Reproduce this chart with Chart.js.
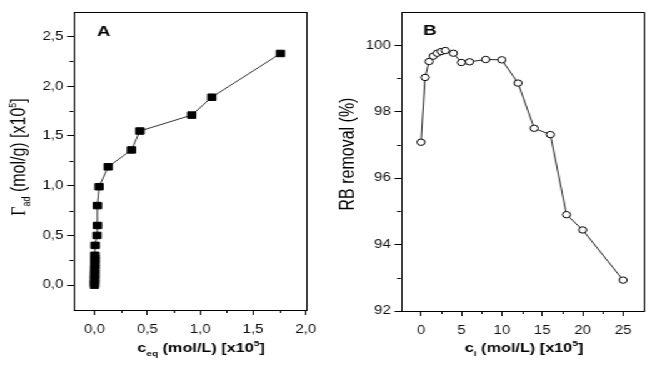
<!DOCTYPE html>
<html>
<head>
<meta charset="utf-8">
<script src="https://cdn.jsdelivr.net/npm/chart.js@4"></script>
<style>
  html, body { margin: 0; padding: 0; background: #fff; overflow: hidden; }
  #wrap { position: absolute; left: 0; top: 0; width: 520px; height: 370px; transform: scaleX(1.25); transform-origin: 0 0; }
  #wrap canvas { position: absolute; top: 0; }
</style>
</head>
<body>
<div id="wrap">
  <canvas id="chartA" width="260" height="370" style="left:0"></canvas>
  <canvas id="chartB" width="260" height="370" style="left:260px"></canvas>
</div>
<script>
// panel A: adsorption isotherm
const ceqA   = [0, 0, 0.001, 0.001, 0.001, 0.002, 0.002, 0.002, 0.003, 0.003, 0.003, 0.004, 0.004,
                0.007, 0.024, 0.028, 0.028, 0.044, 0.13, 0.35, 0.43, 0.92, 1.11, 1.76];
const gammaA = [0, 0.02, 0.05, 0.07, 0.10, 0.12, 0.15, 0.17, 0.20, 0.22, 0.25, 0.27, 0.30,
                0.40, 0.50, 0.60, 0.80, 0.99, 1.19, 1.36, 1.55, 1.71, 1.89, 2.33];
const xTicksA = [0, 0.5, 1.0, 1.5, 2.0];
const yTicksA = [0, 0.5, 1.0, 1.5, 2.0, 2.5];
const xMinorA = [0.25, 0.75, 1.25, 1.75];
const yMinorA = [0.25, 0.75, 1.25, 1.75, 2.25];

// panel B: removal vs initial concentration
const ciB      = [0, 0.5, 1, 1.5, 2, 2.5, 3, 4, 5, 6, 8, 10, 12, 14, 16, 18, 20, 25];
const removalB = [97.08, 99.03, 99.51, 99.67, 99.76, 99.81, 99.84, 99.76, 99.48, 99.50,
                  99.57, 99.56, 98.86, 97.50, 97.31, 94.90, 94.44, 92.93];
const xTicksB = [0, 5, 10, 15, 20, 25];
const yTicksB = [92, 94, 96, 98, 100];
const xMinorB = [2.5, 7.5, 12.5, 17.5, 22.5];
const yMinorB = [93, 95, 97, 99];

const SANS = "'Liberation Sans', Arial, sans-serif";
const SERIF = "'Liberation Serif', 'Times New Roman', serif";

function drawRich(ctx, parts, x, y) {
  let total = 0;
  parts.forEach(p => { ctx.font = p.font; p.w = ctx.measureText(p.t).width; total += p.w; });
  let cx = x - total / 2;
  ctx.textBaseline = 'alphabetic';
  ctx.textAlign = 'left';
  parts.forEach(p => {
    ctx.font = p.font;
    ctx.fillText(p.t, cx, y + (p.dy || 0));
    cx += p.w;
  });
}

function framePlugin(cfg) {
  return {
    id: 'frame',
    afterDraw(chart) {
      const ctx = chart.ctx;
      const a = chart.chartArea;
      const xs = chart.scales.x, ys = chart.scales.y;
      ctx.save();
      ctx.strokeStyle = '#000';
      ctx.lineWidth = 1;
      ctx.strokeRect(Math.round(a.left) + 0.5, Math.round(a.top) + 0.5,
                     Math.round(a.right - a.left), Math.round(a.bottom - a.top));
      // minor ticks
      ctx.beginPath();
      cfg.xMinor.forEach(v => {
        const px = Math.round(xs.getPixelForValue(v)) + 0.5;
        ctx.moveTo(px, a.bottom); ctx.lineTo(px, a.bottom + 3);
      });
      cfg.yMinor.forEach(v => {
        const py = Math.round(ys.getPixelForValue(v)) + 0.5;
        ctx.moveTo(a.left, py); ctx.lineTo(a.left - 3, py);
      });
      ctx.stroke();
      ctx.fillStyle = '#000';
      // panel letter
      ctx.font = 'bold 15px ' + SANS;
      ctx.textAlign = 'left';
      ctx.textBaseline = 'alphabetic';
      ctx.fillText(cfg.letter, cfg.letterX, cfg.letterY);
      // x title
      drawRich(ctx, cfg.xTitle, cfg.xTitleX, 352);
      // y title
      ctx.translate(cfg.yTitleX, cfg.yTitleY);
      ctx.rotate(-Math.PI / 2);
      drawRich(ctx, cfg.yTitle, 0, 5);
      ctx.restore();
    }
  };
}

function scales(xr, yr, xTicks, yTicks, yWidth, xHeight, fmt) {
  const grid = { drawOnChartArea: false, drawTicks: true, tickLength: 5, color: '#000', lineWidth: 1 };
  return {
    x: {
      type: 'linear', min: xr[0], max: xr[1],
      grid: grid, border: { display: false },
      afterBuildTicks: s => { s.ticks = xTicks.map(v => ({ value: v })); },
      afterFit: s => { s.height = xHeight; },
      ticks: { padding: 7, color: '#111', font: { family: SANS, size: 12 }, maxRotation: 0, callback: fmt }
    },
    y: {
      type: 'linear', min: yr[0], max: yr[1],
      grid: grid, border: { display: false },
      afterBuildTicks: s => { s.ticks = yTicks.map(v => ({ value: v })); },
      afterFit: s => { s.width = yWidth; },
      ticks: { padding: 3, color: '#111', font: { family: SANS, size: 12 }, callback: fmt }
    }
  };
}

const commaFmt = v => Number(v).toFixed(1).replace('.', ',');

new Chart(document.getElementById('chartA'), {
  type: 'scatter',
  data: {
    datasets: [{
      data: ceqA.map((x, i) => ({ x: x, y: gammaA[i] })),
      showLine: true,
      borderColor: '#333',
      borderWidth: 1,
      pointStyle: 'rect',
      pointRadius: 4.6,
      pointBorderWidth: 1,
      pointBackgroundColor: '#000',
      pointBorderColor: '#000'
    }]
  },
  options: {
    responsive: false,
    animation: false,
    devicePixelRatio: 1,
    layout: { padding: { left: 0, top: 11.7, right: 7.8, bottom: 0 } },
    plugins: { legend: { display: false }, tooltip: { enabled: false } },
    scales: scales([-0.2, 2.0], [-0.25, 2.75], xTicksA, yTicksA, 58.6, 60, commaFmt)
  },
  plugins: [framePlugin({
    xMinor: xMinorA, yMinor: yMinorA,
    letter: 'A', letterX: 77.6, letterY: 36,
    xTitleX: 160.8,
    xTitle: [
      { t: 'c', font: 'bold 13px ' + SANS },
      { t: 'eq', font: 'bold 8px ' + SANS, dy: 4 },
      { t: ' (mol/L) [x10', font: 'bold 13px ' + SANS },
      { t: '5', font: 'bold 8px ' + SANS, dy: -6 },
      { t: ']', font: 'bold 13px ' + SANS }
    ],
    yTitleX: 15.2, yTitleY: 157,
    yTitle: [
      { t: '\u0393', font: '16px ' + SERIF },
      { t: 'ad', font: '9px ' + SANS, dy: 4 },
      { t: ' (mol/g) [x10', font: '16px ' + SANS },
      { t: '5', font: '9px ' + SANS, dy: -7 },
      { t: ']', font: '16px ' + SANS }
    ]
  })]
});

new Chart(document.getElementById('chartB'), {
  type: 'scatter',
  data: {
    datasets: [{
      data: ciB.map((x, i) => ({ x: x, y: removalB[i] })),
      showLine: true,
      borderColor: '#222',
      borderWidth: 1,
      pointStyle: 'circle',
      pointRadius: 3.2,
      pointBorderWidth: 1,
      pointBackgroundColor: '#fff',
      pointBorderColor: '#000'
    }]
  },
  options: {
    responsive: false,
    animation: false,
    devicePixelRatio: 1,
    layout: { padding: { left: 0, top: 12, right: 5.4, bottom: 0 } },
    plugins: { legend: { display: false }, tooltip: { enabled: false } },
    scales: scales([-2.5, 27.5], [92, 101], xTicksB, yTicksB, 60.6, 59, v => String(v))
  },
  plugins: [framePlugin({
    xMinor: xMinorB, yMinor: yMinorB,
    letter: 'B', letterX: 78.4, letterY: 35,
    xTitleX: 159.2,
    xTitle: [
      { t: 'c', font: 'bold 13px ' + SANS },
      { t: 'i', font: 'bold 8px ' + SANS, dy: 4 },
      { t: ' (mol/L) [x10', font: 'bold 13px ' + SANS },
      { t: '5', font: 'bold 8px ' + SANS, dy: -6 },
      { t: ']', font: 'bold 13px ' + SANS }
    ],
    yTitleX: 18, yTitleY: 154,
    yTitle: [
      { t: 'RB removal (%)', font: '16px ' + SANS }
    ]
  })]
});
</script>
</body>
</html>
